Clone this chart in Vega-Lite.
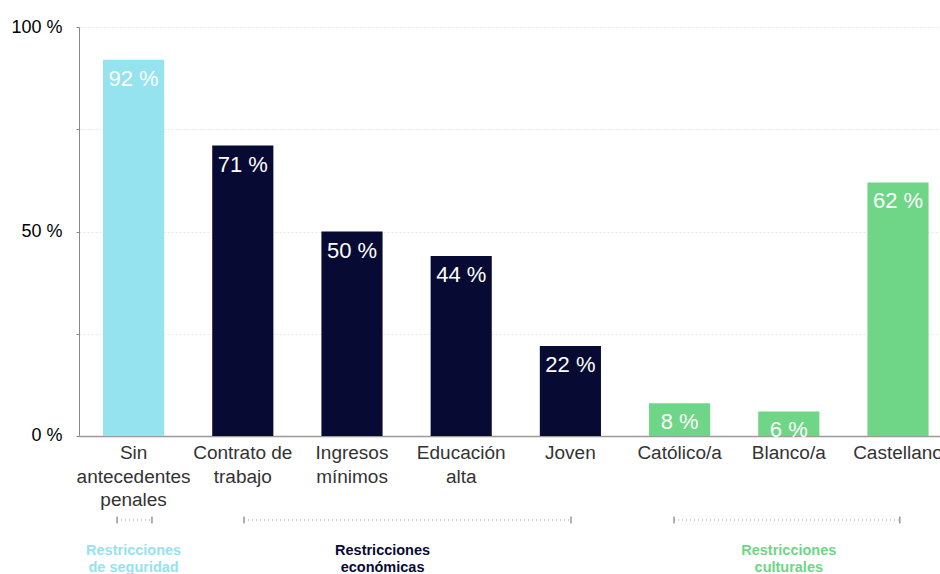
{
  "$schema": "https://vega.github.io/schema/vega-lite/v6.json",
  "padding": {"left": 10, "top": 18, "right": 0, "bottom": 0},
  "config": {
    "view": {"stroke": null},
    "font": "Liberation Sans",
    "concat": {"spacing": 3}
  },
  "datasets": {
    "bars": [
      {"cat": "Sin\nantecedentes\npenales", "pct": 92, "label": "92 %", "group": "seguridad"},
      {"cat": "Contrato de\ntrabajo", "pct": 71, "label": "71 %", "group": "económicas"},
      {"cat": "Ingresos\nmínimos", "pct": 50, "label": "50 %", "group": "económicas"},
      {"cat": "Educación\nalta", "pct": 44, "label": "44 %", "group": "económicas"},
      {"cat": "Joven", "pct": 22, "label": "22 %", "group": "económicas"},
      {"cat": "Católico/a", "pct": 8, "label": "8 %", "group": "culturales"},
      {"cat": "Blanco/a", "pct": 6, "label": "6 %", "group": "culturales"},
      {"cat": "Castellano", "pct": 62, "label": "62 %", "group": "culturales"}
    ],
    "brackets": [
      {"group": "seguridad", "label": "Restricciones\nde seguridad", "start": "Sin\nantecedentes\npenales", "end": "Sin\nantecedentes\npenales", "anchor": "Sin\nantecedentes\npenales"},
      {"group": "económicas", "label": "Restricciones\neconómicas", "start": "Contrato de\ntrabajo", "end": "Joven", "anchor": "Ingresos\nmínimos"},
      {"group": "culturales", "label": "Restricciones\nculturales", "start": "Católico/a", "end": "Castellano", "anchor": "Blanco/a"}
    ]
  },
  "vconcat": [
    {
      "width": 873.6,
      "height": 409,
      "data": {"name": "bars"},
      "encoding": {
        "x": {
          "field": "cat",
          "type": "nominal",
          "scale": {
            "domain": ["Sin\nantecedentes\npenales", "Contrato de\ntrabajo", "Ingresos\nmínimos", "Educación\nalta", "Joven", "Católico/a", "Blanco/a", "Castellano"],
            "paddingInner": 0.44,
            "paddingOuter": 0.22
          },
          "axis": {
            "title": null,
            "labelExpr": "split(datum.value, '\\n')",
            "labelAngle": 0,
            "labelFontSize": 19,
            "labelLineHeight": 23.5,
            "labelColor": "#333333",
            "labelPadding": 8,
            "labelOverlap": false,
            "ticks": false,
            "tickSize": 0,
            "domainColor": "#9a9a9a",
            "domainWidth": 1.5
          }
        },
        "y": {
          "field": "pct",
          "type": "quantitative",
          "scale": {"domain": [0, 100], "nice": false},
          "axis": {
            "title": null,
            "values": [0, 25, 50, 75, 100],
            "labelExpr": "datum.value % 50 == 0 ? datum.value + ' %' : ''",
            "labelFontSize": 18,
            "labelColor": "#000000",
            "labelPadding": 14,
            "tickSize": 3,
            "tickColor": "#888888",
            "domainColor": "#888888",
            "gridColor": "#e6e6e6",
            "gridDash": [2, 2]
          }
        }
      },
      "layer": [
        {
          "mark": {"type": "bar"},
          "encoding": {
            "color": {
              "field": "group",
              "type": "nominal",
              "legend": null,
              "scale": {"domain": ["seguridad", "económicas", "culturales"], "range": ["#94E3EE", "#070B33", "#6ED686"]}
            }
          }
        },
        {
          "mark": {"type": "text", "color": "white", "fontSize": 22, "baseline": "alphabetic", "dy": 26},
          "encoding": {"text": {"field": "label"}}
        }
      ]
    },
    {
      "width": 873.6,
      "height": 10,
      "data": {"name": "brackets"},
      "layer": [
        {
          "transform": [{"filter": "datum.group === 'seguridad'"}],
          "mark": {"type": "rule", "strokeDash": [1, 3], "color": "#999999", "strokeWidth": 1},
          "encoding": {
            "x": {"field": "start", "type": "nominal", "bandPosition": 0.23, "axis": null},
            "x2": {"field": "end", "bandPosition": 0.8}
          }
        },
        {
          "transform": [{"filter": "datum.group === 'económicas'"}],
          "mark": {"type": "rule", "strokeDash": [1, 3], "color": "#999999", "strokeWidth": 1},
          "encoding": {
            "x": {"field": "start", "type": "nominal", "bandPosition": 0.52, "axis": null},
            "x2": {"field": "end", "bandPosition": 0.51}
          }
        },
        {
          "transform": [{"filter": "datum.group === 'culturales'"}],
          "mark": {"type": "rule", "strokeDash": [1, 3], "color": "#999999", "strokeWidth": 1},
          "encoding": {
            "x": {"field": "start", "type": "nominal", "bandPosition": 0.41, "axis": null},
            "x2": {"field": "end", "bandPosition": 0.53}
          }
        },
        {
          "transform": [{"filter": "datum.group === 'seguridad'"}],
          "mark": {"type": "point", "shape": "M0,-1L0,1", "size": 49, "filled": false, "stroke": "#999999", "strokeWidth": 1.5, "opacity": 1},
          "encoding": {"x": {"field": "start", "type": "nominal", "bandPosition": 0.23, "axis": null}}
        },
        {
          "transform": [{"filter": "datum.group === 'seguridad'"}],
          "mark": {"type": "point", "shape": "M0,-1L0,1", "size": 49, "filled": false, "stroke": "#999999", "strokeWidth": 1.5, "opacity": 1},
          "encoding": {"x": {"field": "end", "type": "nominal", "bandPosition": 0.8, "axis": null}}
        },
        {
          "transform": [{"filter": "datum.group === 'económicas'"}],
          "mark": {"type": "point", "shape": "M0,-1L0,1", "size": 49, "filled": false, "stroke": "#999999", "strokeWidth": 1.5, "opacity": 1},
          "encoding": {"x": {"field": "start", "type": "nominal", "bandPosition": 0.52, "axis": null}}
        },
        {
          "transform": [{"filter": "datum.group === 'económicas'"}],
          "mark": {"type": "point", "shape": "M0,-1L0,1", "size": 49, "filled": false, "stroke": "#999999", "strokeWidth": 1.5, "opacity": 1},
          "encoding": {"x": {"field": "end", "type": "nominal", "bandPosition": 0.51, "axis": null}}
        },
        {
          "transform": [{"filter": "datum.group === 'culturales'"}],
          "mark": {"type": "point", "shape": "M0,-1L0,1", "size": 49, "filled": false, "stroke": "#999999", "strokeWidth": 1.5, "opacity": 1},
          "encoding": {"x": {"field": "start", "type": "nominal", "bandPosition": 0.41, "axis": null}}
        },
        {
          "transform": [{"filter": "datum.group === 'culturales'"}],
          "mark": {"type": "point", "shape": "M0,-1L0,1", "size": 49, "filled": false, "stroke": "#999999", "strokeWidth": 1.5, "opacity": 1},
          "encoding": {"x": {"field": "end", "type": "nominal", "bandPosition": 0.53, "axis": null}}
        },
        {
          "transform": [{"filter": "datum.group !== 'económicas'"}],
          "mark": {"type": "text", "fontWeight": "bold", "fontSize": 14.5, "lineBreak": "\n", "lineHeight": 17.5, "baseline": "top", "dy": 24},
          "encoding": {
            "x": {"field": "anchor", "type": "nominal", "bandPosition": 0.5, "axis": null},
            "text": {"field": "label"},
            "color": {"field": "group", "type": "nominal", "legend": null}
          }
        },
        {
          "transform": [{"filter": "datum.group === 'económicas'"}],
          "mark": {"type": "text", "fontWeight": "bold", "fontSize": 14.5, "lineBreak": "\n", "lineHeight": 17.5, "baseline": "top", "dy": 24},
          "encoding": {
            "x": {"field": "anchor", "type": "nominal", "bandPosition": 1, "axis": null},
            "text": {"field": "label"},
            "color": {"field": "group", "type": "nominal", "legend": null}
          }
        }
      ]
    }
  ],
  "resolve": {"scale": {"x": "shared", "color": "shared"}}
}
